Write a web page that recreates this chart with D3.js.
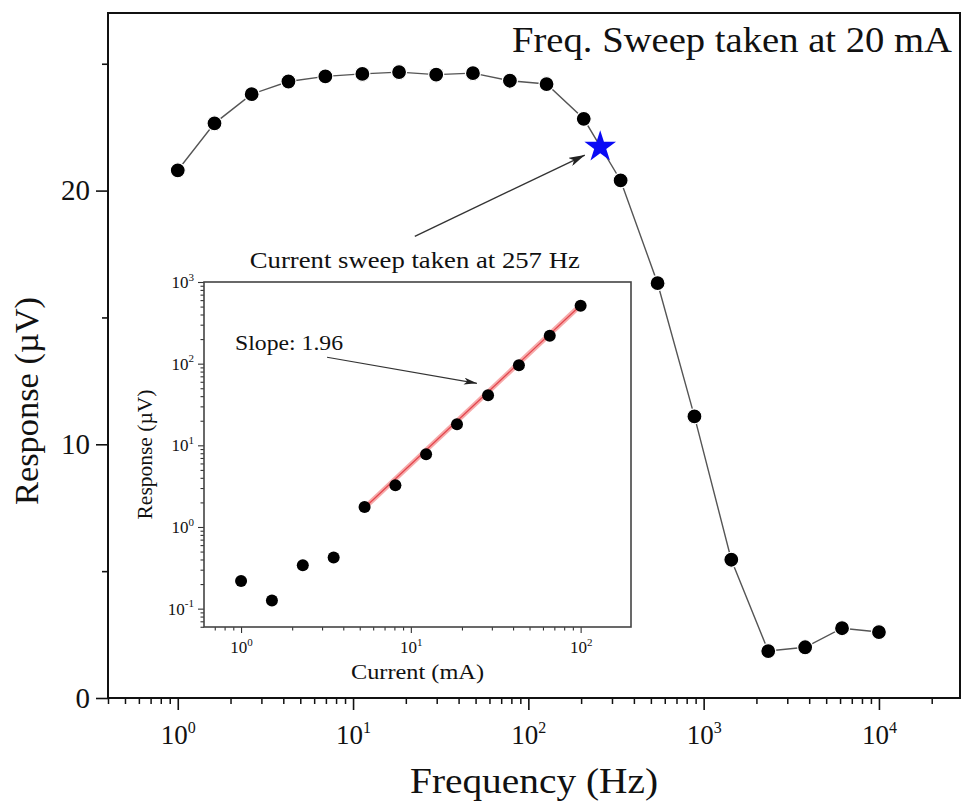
<!DOCTYPE html>
<html lang="en">
<head>
<meta charset="UTF-8">
<title>Frequency sweep</title>
<script src="https://d3js.org/d3.v7.min.js"></script>
<style>
  body { margin: 0; background: #fff; }
  text { font-family: "Liberation Serif", "Times New Roman", serif; fill: #111; }
</style>
</head>
<body>
<script>
// main sweep: response vs frequency, taken at 20 mA
const freqHz = [1, 1.62, 2.64, 4.28, 6.95, 11.3, 18.3, 29.8, 48.3, 78.5,
                127, 207, 336, 546, 886, 1438, 2336, 3793, 6158, 10000];
const responseUV = [20.8, 22.65, 23.8, 24.3, 24.5, 24.6, 24.67, 24.57, 24.63, 24.33,
                    24.2, 22.83, 20.4, 16.35, 11.1, 5.45, 1.85, 2.0, 2.75, 2.6];
const starPoint = {f: 257, r: 21.72};

// inset: current sweep at 257 Hz
const currentMA = [1, 1.52, 2.31, 3.51, 5.34, 8.11, 12.3, 18.7, 28.5, 43.3, 65.8, 100];
const insetResp = [0.218, 0.126, 0.34, 0.422, 1.76, 3.24, 7.78, 18.1, 41.1, 95.9, 219, 511];
const fitLine = [[5.34, 1.72], [100, 520]];

const mainXTicks = [1, 10, 100, 1000, 10000];
const mainYTicks = [0, 10, 20];
const insetXTicks = [1, 10, 100];
const insetYTicks = [0.1, 1, 10, 100, 1000];

const W = 963, H = 807;
const svg = d3.select("body").append("svg")
    .attr("width", W).attr("height", H);

const defs = svg.append("defs");
function arrowMarker(id, len, wid) {
  defs.append("marker")
      .attr("id", id)
      .attr("viewBox", `0 0 ${len} ${wid}`)
      .attr("refX", len).attr("refY", wid / 2)
      .attr("markerWidth", len).attr("markerHeight", wid)
      .attr("markerUnits", "userSpaceOnUse")
      .attr("orient", "auto")
    .append("path")
      .attr("d", `M0,0L${len},${wid / 2}L0,${wid}L${len * 0.25},${wid / 2}Z`)
      .attr("fill", "#222");
}
arrowMarker("arr", 16, 9);
arrowMarker("arrSmall", 13, 7);

// minor ticks for log axes (2..9 per decade)
function minors(lo, hi) {
  const out = [];
  for (let e = Math.floor(Math.log10(lo)); e <= Math.ceil(Math.log10(hi)); e++) {
    for (let m = 2; m < 10; m++) {
      const v = m * Math.pow(10, e);
      if (v >= lo && v <= hi) out.push(v);
    }
  }
  return out;
}

function powLabel(sel, size, supSize) {
  sel.each(function(d) {
    const t = d3.select(this).text("");
    const e = Math.round(Math.log10(d));
    t.append("tspan").text("10");
    t.append("tspan").attr("dy", -size * 0.42).attr("font-size", supSize).text(e);
  });
}

function styleTicks(g, color, w) {
  g.selectAll("path.domain").remove();
  g.selectAll("line").attr("stroke", color).attr("stroke-width", w);
}

// ---------- main chart ----------
const m = {l: 108, r: 960, t: 13, b: 698};
const x = d3.scaleLog().domain([0.4, 29000]).range([m.l, m.r]);
const y = d3.scaleLinear().domain([0, 27]).range([m.b, m.t]);

const gxMinor = svg.append("g").attr("transform", `translate(0,${m.b})`)
    .call(d3.axisBottom(x).tickValues(minors(0.4, 29000)).tickSize(6).tickFormat(""));
styleTicks(gxMinor, "#111", 1.5);
const gx = svg.append("g").attr("transform", `translate(0,${m.b})`)
    .call(d3.axisBottom(x).tickValues(mainXTicks).tickSize(12).tickPadding(15));
styleTicks(gx, "#111", 1.6);
gx.selectAll("text").attr("font-size", 27).attr("dy", "0.71em").call(powLabel, 27, 16);

const gyMinor = svg.append("g").attr("transform", `translate(${m.l},0)`)
    .call(d3.axisLeft(y).tickValues([5, 15, 25]).tickSize(6).tickFormat(""));
styleTicks(gyMinor, "#111", 1.6);
const gy = svg.append("g").attr("transform", `translate(${m.l},0)`)
    .call(d3.axisLeft(y).tickValues(mainYTicks).tickSize(12).tickPadding(6));
styleTicks(gy, "#111", 1.6);
gy.selectAll("text").attr("font-size", 29);

svg.append("rect")
    .attr("x", m.l).attr("y", m.t)
    .attr("width", m.r - m.l).attr("height", m.b - m.t)
    .attr("fill", "none").attr("stroke", "#111").attr("stroke-width", 2);

const pts = freqHz.map((f, i) => [f, responseUV[i]]);
svg.append("path")
    .datum(pts)
    .attr("fill", "none").attr("stroke", "#555").attr("stroke-width", 1.4)
    .attr("d", d3.line().x(d => x(d[0])).y(d => y(d[1])));
svg.append("g").selectAll("circle")
    .data(pts).join("circle")
    .attr("cx", d => x(d[0])).attr("cy", d => y(d[1])).attr("r", 7.5)
    .attr("fill", "#000").attr("stroke", "#fff").attr("stroke-width", 1.2);

svg.append("path")
    .attr("d", d3.symbol(d3.symbolStar, 310)())
    .attr("transform", `translate(${x(starPoint.f)},${y(starPoint.r)})`)
    .attr("fill", "#0a0af5");

// annotation arrow to the star
svg.append("line")
    .attr("x1", x(22.5)).attr("y1", y(18.2))
    .attr("x2", x(210)).attr("y2", y(21.4))
    .attr("stroke", "#333").attr("stroke-width", 1.4)
    .attr("marker-end", "url(#arr)");
svg.append("text")
    .attr("x", x(22.5)).attr("y", y(16.95))
    .attr("text-anchor", "middle").attr("font-size", 24)
    .attr("textLength", 330).attr("lengthAdjust", "spacingAndGlyphs")
    .text("Current sweep taken at 257 Hz");

svg.append("text")
    .attr("x", m.r - 8).attr("y", m.t + 39)
    .attr("text-anchor", "end").attr("font-size", 36)
    .attr("textLength", 440).attr("lengthAdjust", "spacingAndGlyphs")
    .text("Freq. Sweep taken at 20 mA");

svg.append("text")
    .attr("x", (m.l + m.r) / 2).attr("y", 793)
    .attr("text-anchor", "middle").attr("font-size", 36)
    .attr("textLength", 248).attr("lengthAdjust", "spacingAndGlyphs")
    .text("Frequency (Hz)");
svg.append("text")
    .attr("transform", "translate(38,401) rotate(-90)")
    .attr("text-anchor", "middle").attr("font-size", 34)
    .attr("textLength", 208).attr("lengthAdjust", "spacingAndGlyphs")
    .text("Response (\u00b5V)");

// ---------- inset ----------
const n = {l: 204, r: 631, t: 282, b: 627};
svg.append("rect")
    .attr("x", n.l).attr("y", n.t)
    .attr("width", n.r - n.l).attr("height", n.b - n.t)
    .attr("fill", "#fff");
const xi = d3.scaleLog().domain([0.605, 198]).range([n.l, n.r]);
const yi = d3.scaleLog().domain([0.0596, 1000]).range([n.b, n.t]);

const gxiMinor = svg.append("g").attr("transform", `translate(0,${n.b})`)
    .call(d3.axisBottom(xi).tickValues(minors(0.605, 198)).tickSize(3.5).tickFormat(""));
styleTicks(gxiMinor, "#333", 1.1);
const gxi = svg.append("g").attr("transform", `translate(0,${n.b})`)
    .call(d3.axisBottom(xi).tickValues(insetXTicks).tickSize(6).tickPadding(8));
styleTicks(gxi, "#333", 1.1);
gxi.selectAll("text").attr("font-size", 17).attr("dy", "0.71em").call(powLabel, 17, 11);

const gyiMinor = svg.append("g").attr("transform", `translate(${n.l},0)`)
    .call(d3.axisLeft(yi).tickValues(minors(0.0596, 1000)).tickSize(3.5).tickFormat(""));
styleTicks(gyiMinor, "#333", 1.1);
const gyi = svg.append("g").attr("transform", `translate(${n.l},0)`)
    .call(d3.axisLeft(yi).tickValues(insetYTicks).tickSize(6).tickPadding(4));
styleTicks(gyi, "#333", 1.1);
gyi.selectAll("text").attr("font-size", 17).call(powLabel, 17, 11);

svg.append("rect")
    .attr("x", n.l).attr("y", n.t)
    .attr("width", n.r - n.l).attr("height", n.b - n.t)
    .attr("fill", "none").attr("stroke", "#444").attr("stroke-width", 1.6);

const fitPath = d3.line().x(d => xi(d[0])).y(d => yi(d[1]));
svg.append("path").datum(fitLine)
    .attr("d", fitPath).attr("stroke", "#f6aaaa").attr("stroke-width", 5).attr("fill", "none");
svg.append("path").datum(fitLine)
    .attr("d", fitPath).attr("stroke", "#e3434b").attr("stroke-width", 1.2).attr("fill", "none");

svg.append("g").selectAll("circle")
    .data(currentMA.map((c, i) => [c, insetResp[i]])).join("circle")
    .attr("cx", d => xi(d[0])).attr("cy", d => yi(d[1])).attr("r", 6)
    .attr("fill", "#000");

svg.append("line")
    .attr("x1", xi(3.21)).attr("y1", yi(119.8))
    .attr("x2", xi(24.5)).attr("y2", yi(57.5))
    .attr("stroke", "#333").attr("stroke-width", 1.2)
    .attr("marker-end", "url(#arrSmall)");
svg.append("text")
    .attr("x", xi(0.922)).attr("y", yi(146))
    .attr("font-size", 22)
    .attr("textLength", 108).attr("lengthAdjust", "spacingAndGlyphs")
    .text("Slope: 1.96");

svg.append("text")
    .attr("x", (n.l + n.r) / 2).attr("y", 679)
    .attr("text-anchor", "middle").attr("font-size", 22)
    .attr("textLength", 133).attr("lengthAdjust", "spacingAndGlyphs")
    .text("Current (mA)");
svg.append("text")
    .attr("transform", `translate(152,${(n.t + n.b) / 2}) rotate(-90)`)
    .attr("text-anchor", "middle").attr("font-size", 21)
    .attr("textLength", 130).attr("lengthAdjust", "spacingAndGlyphs")
    .text("Response (\u00b5V)");
</script>
</body>
</html>
